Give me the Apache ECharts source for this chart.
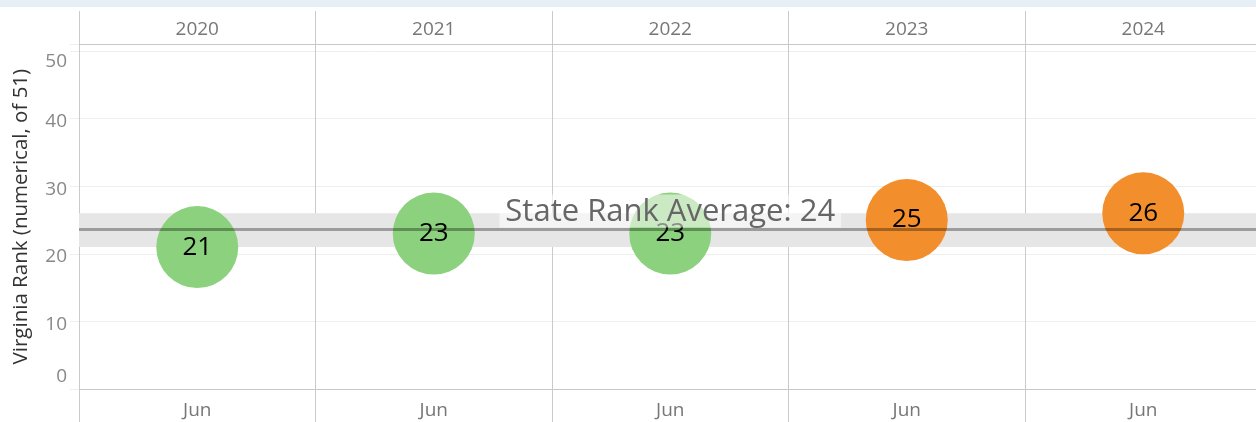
<!DOCTYPE html>
<html><head><meta charset="utf-8">
<script src="https://cdn.jsdelivr.net/npm/echarts@6/dist/echarts.min.js"></script>
<style>html,body{margin:0;padding:0;background:#fff;overflow:hidden}#c{width:1256px;height:422px}</style>
</head><body><div id="c"></div>
<script>
const years = ['2020', '2021', '2022', '2023', '2024'];
const months = ['Jun', 'Jun', 'Jun', 'Jun', 'Jun'];
const ranks = [21, 23, 23, 25, 26];
const yAxisTitle = 'Virginia Rank (numerical, of 51)';

const avg = ranks.reduce((a, b) => a + b, 0) / ranks.length;
const bandLow = Math.min(...ranks);
const bandHigh = Math.max(...ranks);
const GREEN = '#8cd17d', ORANGE = '#f28e2b';
const FONT = 'Open Sans';
const divider = { color: '#cacaca', width: 1 };

const chart = echarts.init(document.getElementById('c'), null, { renderer: 'canvas' });
chart.setOption({
  animation: false,
  backgroundColor: '#fff',
  graphic: [{ type: 'rect', shape: { x: 0, y: 0, width: 1256, height: 7 }, style: { fill: '#e6eef6' }, silent: true }],
  grid: { left: 79, top: 44, width: 1182.5, height: 345.3, containLabel: false, outerBoundsMode: 'none' },
  xAxis: [
    {
      type: 'category', position: 'bottom', data: months, boundaryGap: true,
      axisLine: { show: true, lineStyle: { color: '#c8c8c8', width: 1 } },
      axisTick: { show: true, length: 33, lineStyle: divider },
      axisLabel: { margin: 12, fontSize: 19, color: '#777', fontFamily: FONT },
      splitLine: { show: true, lineStyle: divider }
    },
    {
      type: 'category', position: 'top', data: years, boundaryGap: true,
      axisLine: { show: true, lineStyle: { color: '#c8c8c8', width: 1 } },
      axisTick: { show: true, length: 33, lineStyle: divider },
      axisLabel: { margin: 5, fontSize: 19, color: '#777', fontFamily: FONT },
      splitLine: { show: false }
    }
  ],
  yAxis: {
    type: 'value', min: 0, max: 51, interval: 10,
    name: yAxisTitle, nameLocation: 'middle', nameGap: 47, nameRotate: 90,
    nameTextStyle: { fontSize: 20.5, color: '#333', fontFamily: FONT },
    axisLine: { show: true, lineStyle: { color: '#cacaca' } },
    axisTick: { show: true, length: 9, lineStyle: { color: '#eeeeee' } },
    splitLine: { show: true, lineStyle: { color: '#eeeeee', width: 1 } },
    axisLabel: {
      margin: 12, fontFamily: FONT, fontSize: 19, color: '#888',
      formatter: v => v === 51 ? '' : v === 50 ? '{t|50}' : v === 0 ? '{b|0}' : '{n|' + v + '}',
      rich: {
        t: { fontSize: 19, color: '#888', fontFamily: FONT, padding: [22, 0, 0, 0] },
        b: { fontSize: 19, color: '#888', fontFamily: FONT, padding: [0, 0, 26, 0] },
        n: { fontSize: 19, color: '#888', fontFamily: FONT, padding: [6, 0, 0, 0] }
      }
    }
  },
  series: [
    {
      type: 'line', data: [], z: 1, silent: true,
      markArea: {
        silent: true,
        itemStyle: { color: '#e6e6e6' },
        data: [[{ yAxis: bandLow }, { yAxis: bandHigh }]]
      }
    },
    {
      type: 'scatter', xAxisIndex: 0, z: 3,
      data: ranks.map((v, i) => [i, v]),
      symbolSize: 82,
      itemStyle: { opacity: 1, color: p => (p.value[1] < avg ? GREEN : ORANGE) },
      label: { show: true, position: 'inside', formatter: p => String(p.value[1]), fontSize: 26, color: '#000', fontFamily: FONT },
      emphasis: { disabled: true }
    },
    {
      type: 'line', data: [], z: 5, silent: true,
      markLine: {
        silent: true, symbol: 'none',
        lineStyle: { color: 'rgba(0,0,0,0.32)', width: 3, type: 'solid' },
        label: {
          show: true, position: 'insideMiddleTop', distance: 2,
          formatter: 'State Rank Average: ' + Math.round(avg),
          fontSize: 31, color: '#666', fontFamily: FONT,
          backgroundColor: 'rgba(255,255,255,0.55)', padding: [2, 6, 0, 6]
        },
        data: [{ yAxis: avg }]
      }
    }
  ]
});
</script></body></html>
